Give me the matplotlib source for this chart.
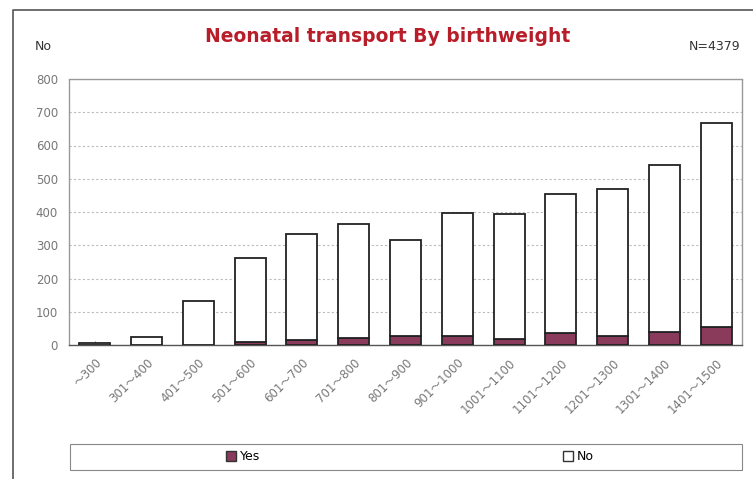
import matplotlib

matplotlib.use("Agg")
import matplotlib.pyplot as plt
from matplotlib.lines import Line2D
from matplotlib.patches import Rectangle

categories = ["～300", "301～400", "401～500", "501～600", "601～700", "701～800", "801～900",
              "901～1000", "1001～1100", "1101～1200", "1201～1300", "1301～1400", "1401～1500"]
yes_values = [0, 0, 0, 9, 15, 20, 26, 26, 19, 35, 28, 40, 55]
total_values = [7, 25, 132, 261, 334, 364, 315, 396, 394, 453, 468, 542, 668]
no_values = [t - y for t, y in zip(total_values, yes_values)]

W, H = 753, 479
YES_COLOR = "#8a3a5a"
GREY = "#777777"

fig = plt.figure(figsize=(W / 100, H / 100), dpi=100)
fig.patch.set_facecolor("white")
ax = fig.add_axes([69 / W, 1 - 345 / H, (742 - 69) / W, (345 - 79) / H])

x = range(len(categories))
ax.bar(x, yes_values, width=0.6, color=YES_COLOR, edgecolor="#222222", linewidth=1.3, zorder=3)
ax.bar(x, no_values, bottom=yes_values, width=0.6, color="white", edgecolor="#222222",
       linewidth=1.3, zorder=3)

ax.set_xlim(-0.5, len(categories) - 0.5)
ax.set_ylim(0, 800)
ax.set_yticks(range(0, 801, 100))
ax.grid(axis="y", color="#bbbbbb", linestyle=(0, (2, 2)), linewidth=0.8)
ax.set_axisbelow(True)
for spine in ax.spines.values():
    spine.set_color("#999999")
    spine.set_linestyle((0, (2, 1)))
    spine.set_linewidth(1.0)
ax.spines["bottom"].set_color("#555555")

ax.set_xticks(list(x))
ax.set_xticklabels(categories, rotation=45, ha="right", rotation_mode="anchor",
                   fontsize=8.5, color=GREY, family=["DejaVu Sans", "Noto Sans CJK JP"])
ax.tick_params(axis="y", colors=GREY, labelsize=8.5, length=0, pad=8)
ax.tick_params(axis="x", length=3, color="#777777", direction="in", pad=8)

fig.text(388 / W, 1 - 36 / H, "Neonatal transport By birthweight", ha="center", va="center",
         fontsize=13.5, fontweight="bold", color="#b81e2a")
fig.text(35 / W, 1 - 47 / H, "No", ha="left", va="center", fontsize=9, color="#333333")
fig.text(740 / W, 1 - 47 / H, "N=4379", ha="right", va="center", fontsize=9, color="#333333")

# outer frame (left and top edges)
fig.add_artist(Line2D([13 / W, 13 / W, 1.0], [0.0, 1 - 10 / H, 1 - 10 / H],
                      transform=fig.transFigure, color="#555555", linewidth=1.2))

# legend box
fig.add_artist(Rectangle((70 / W, 1 - 470 / H), (742 - 70) / W, 26 / H,
                         transform=fig.transFigure, facecolor="white",
                         edgecolor="#888888", linewidth=0.8))
yes_handle = Rectangle((0, 0), 1, 1, facecolor=YES_COLOR, edgecolor="#333333")
no_handle = Rectangle((0, 0), 1, 1, facecolor="white", edgecolor="#333333")
for handle, label, cx in [(yes_handle, "Yes", 243), (no_handle, "No", 578)]:
    fig.legend([handle], [label], loc="center", bbox_to_anchor=(cx / W, 1 - 457 / H),
               frameon=False, fontsize=9, handlelength=0.8, handleheight=0.8,
               handletextpad=0.3, borderpad=0)

fig.savefig("out.png", dpi=100, facecolor="white")
